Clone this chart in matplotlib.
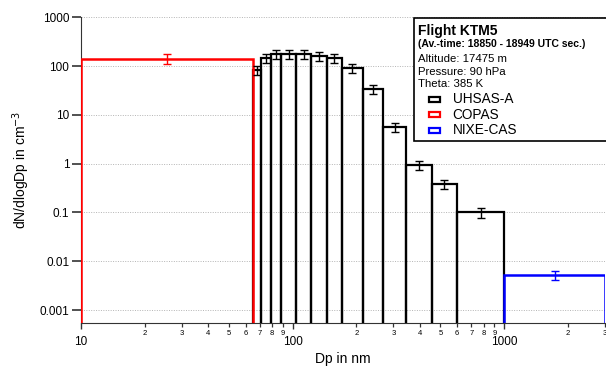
import numpy as np
import matplotlib
matplotlib.use('Agg')
import matplotlib.pyplot as plt
from matplotlib.ticker import LogLocator, FuncFormatter
from matplotlib.patches import Rectangle

plt.rcParams['font.family'] = ['Liberation Sans', 'DejaVu Sans']

# UHSAS-A size bins (nm) and dN/dlogDp (cm^-3)
uhsas_edges = [65.3, 70.8, 79.1, 88.5, 104, 122.7, 145, 171.4, 214.7, 268.7, 343, 455, 600, 1000]
uhsas_vals = [84, 149, 180, 180, 176, 160, 144, 91, 33.5, 5.6, 0.94, 0.377, 0.1]
uhsas_err = [17, 32, 38, 38, 37, 34, 30, 19, 7, 1.2, 0.19, 0.08, 0.022]

copas_edges = [10, 65.3]
copas_vals = [142]
copas_err = [33]

nixe_edges = [1000, 3000]
nixe_vals = [0.00514]
nixe_err = [0.0011]

info_title = 'Flight KTM5'
info_lines = ['(Av.-time: 18850 - 18949 UTC sec.)', 'Altitude: 17475 m',
              'Pressure: 90 hPa', 'Theta: 385 K']
instruments = ['UHSAS-A', 'COPAS', 'NIXE-CAS']
colors = ['black', 'red', 'blue']

base = 1e-5

fig = plt.figure(figsize=(6.06, 3.69), dpi=100)
ax = fig.add_axes([81/606, 1-322.7/369, (605-81)/606, (322.7-17.3)/369])


def draw(edges, vals, err, color, lw):
    e = np.array(edges)
    v = np.array(vals)
    ax.bar(e[:-1], v - base, width=np.diff(e), bottom=base, align='edge',
           fill=False, edgecolor=color, linewidth=lw, zorder=3)
    mid = np.sqrt(e[:-1] * e[1:])
    ax.errorbar(mid, v, yerr=err, fmt='none', ecolor=color, elinewidth=1.0,
                capsize=2.6, capthick=1.0, zorder=4)


draw(uhsas_edges, uhsas_vals, uhsas_err, 'black', 1.6)
draw(copas_edges, copas_vals, copas_err, 'red', 1.8)
draw(nixe_edges, nixe_vals, nixe_err, 'blue', 1.8)

ax.set_xscale('log')
ax.set_yscale('log')
ax.set_xlim(10, 3000)
ax.set_ylim(0.00055, 1000)

ax.spines['top'].set_visible(False)
ax.spines['right'].set_visible(False)
ax.spines['left'].set_color('#333333')
ax.spines['bottom'].set_color('#333333')

ax.yaxis.set_major_locator(LogLocator(base=10, numticks=20))
ax.yaxis.set_minor_locator(LogLocator(base=10, subs=[], numticks=20))
ax.yaxis.set_major_formatter(FuncFormatter(lambda v, p: ('%g' % v)))
ax.tick_params(axis='y', which='major', direction='out', length=6.5, width=1.2,
               labelsize=8.5, pad=2, color='#333333')
ax.yaxis.grid(True, which='major', linestyle=(0, (1, 1.5)), color='#b4b4b4', linewidth=0.7)
ax.set_axisbelow(True)

ax.xaxis.set_major_locator(LogLocator(base=10, numticks=10))
ax.xaxis.set_minor_locator(LogLocator(base=10, subs=np.arange(2, 10), numticks=10))
ax.xaxis.set_major_formatter(FuncFormatter(lambda v, p: '%d' % round(v)))


def minor_fmt(v, p):
    m = v / 10 ** np.floor(np.log10(v) + 1e-9)
    return '%d' % round(m)


ax.xaxis.set_minor_formatter(FuncFormatter(minor_fmt))
ax.tick_params(axis='x', which='major', direction='out', length=4.5, width=1.0,
               labelsize=8.5, pad=5, color='#333333')
ax.tick_params(axis='x', which='minor', direction='out', length=3, width=0.9,
               labelsize=5.5, pad=2, color='#333333')

ax.set_xlabel('Dp in nm', fontsize=10, labelpad=3)
ax.set_ylabel('dN/dlogDp in cm$^{-3}$', fontsize=10, labelpad=5)

# info / legend box in figure pixels
W, H = 606, 369


def fx(x):
    return x / W


def fy(y):
    return 1 - y / H


fig.patches.append(Rectangle((fx(414), fy(141.3)), fx(200), (141.3-18)/H, transform=fig.transFigure,
                             fill=True, facecolor='white', edgecolor='black', linewidth=1.2, zorder=5))
fig.text(fx(418), fy(30.7), info_title, fontsize=10, fontweight='bold', va='center', zorder=6)
fig.text(fx(418), fy(44.3), info_lines[0], fontsize=7.5, fontweight='bold', va='center', zorder=6)
for i, line in enumerate(info_lines[1:]):
    fig.text(fx(418), fy(59 + i * 12.7), line, fontsize=8.2, va='center', zorder=6)
for i, (name, c) in enumerate(zip(instruments, colors)):
    yc = 99 + i * 15.5
    fig.patches.append(Rectangle((fx(429), fy(yc + 2.5)), fx(11), 5/H, transform=fig.transFigure,
                                 fill=False, edgecolor=c, linewidth=1.6, zorder=6))
    fig.text(fx(452.7), fy(yc), name, fontsize=9.8, va='center', zorder=6)

fig.savefig('out.png', dpi=100)
